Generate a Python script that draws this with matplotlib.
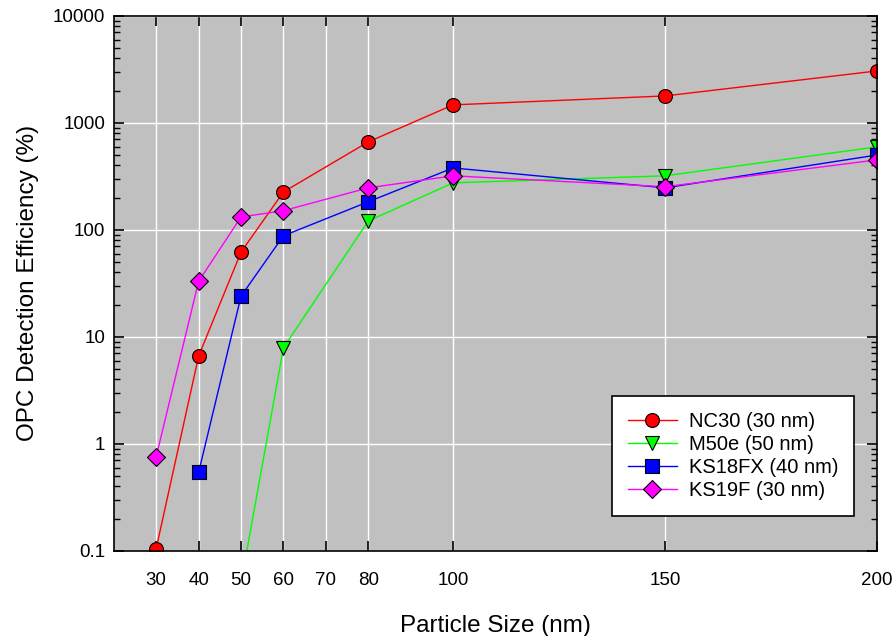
import numpy as np
import matplotlib.pyplot as plt
from matplotlib.ticker import FixedLocator, LogLocator, NullFormatter, FuncFormatter

plt.rcParams['font.family'] = ['Liberation Sans', 'DejaVu Sans']

# Data
sizes = [30, 40, 50, 60, 80, 100, 150, 200]
nc30 = [0.105, 6.6, 62, 226, 664, 1473, 1786, 3060]
m50e_sizes = [50, 60, 80, 100, 150, 200]
m50e = [0.05, 7.9, 121, 275, 320, 597]
ks18_sizes = [40, 50, 60, 80, 100, 150, 200]
ks18fx = [0.54, 24, 88, 183, 379, 247, 501]
ks19f = [0.76, 33, 132, 151, 247, 320, 253, 451]

xticks = [30, 40, 50, 60, 70, 80, 100, 150, 200]

fig = plt.figure(figsize=(8.96, 6.36), dpi=100)
ax = fig.add_axes([0.127, 0.134, 0.852, 0.841])
ax.set_facecolor('#c0c0c0')

mk = dict(markersize=10, markeredgecolor='black', markeredgewidth=0.8, linewidth=1)
ax.plot(sizes, nc30, color='#ff0000', marker='o', markerfacecolor='#ff0000', label='NC30 (30 nm)', **mk)
ax.plot(m50e_sizes, m50e, color='#00ff00', marker='v', markerfacecolor='#00ff00', label='M50e (50 nm)', **mk)
ax.plot(ks18_sizes, ks18fx, color='#0000ff', marker='s', markerfacecolor='#0000ff', label='KS18FX (40 nm)',
        markersize=9.5, markeredgecolor='black', markeredgewidth=0.8, linewidth=1)
ax.plot(sizes, ks19f, color='#ff00ff', marker='D', markerfacecolor='#ff00ff', label='KS19F (30 nm)',
        markersize=9, markeredgecolor='black', markeredgewidth=0.8, linewidth=1)

ax.set_yscale('log')
ax.set_ylim(0.1, 10000)
ax.set_xlim(20, 200)

ax.xaxis.set_major_locator(FixedLocator(xticks))
ax.set_xticklabels([str(v) for v in xticks])
ax.yaxis.set_major_locator(LogLocator(base=10, numticks=10))
ax.yaxis.set_minor_locator(LogLocator(base=10, subs=np.arange(2, 10), numticks=10))
ax.yaxis.set_minor_formatter(NullFormatter())
ax.yaxis.set_major_formatter(FuncFormatter(lambda v, p: f'{v:g}'))

ax.grid(True, which='major', color='white', linewidth=1)
ax.set_axisbelow(True)

ax.tick_params(axis='both', which='major', direction='in', length=7, width=1.2,
               top=True, right=True, labelsize=13.5)
ax.tick_params(axis='x', pad=15)
ax.tick_params(axis='y', pad=6)
ax.tick_params(axis='y', which='minor', direction='in', length=4, width=1, right=True)
ax.tick_params(axis='x', which='minor', bottom=False, top=False)
for s in ax.spines.values():
    s.set_linewidth(1.2)

ax.set_xlabel('Particle Size (nm)', fontsize=17.5, labelpad=19)
ax.set_ylabel('OPC Detection Efficiency (%)', fontsize=17.5, labelpad=10)

leg = ax.legend(loc='lower right', bbox_to_anchor=(0.970, 0.065), borderaxespad=0,
                fontsize=14.5, fancybox=False, edgecolor='black', framealpha=1,
                borderpad=0.8, handlelength=2.4, handletextpad=0.6, labelspacing=0.2)
leg.get_frame().set_linewidth(1.2)

fig.savefig('out.png', dpi=100)
